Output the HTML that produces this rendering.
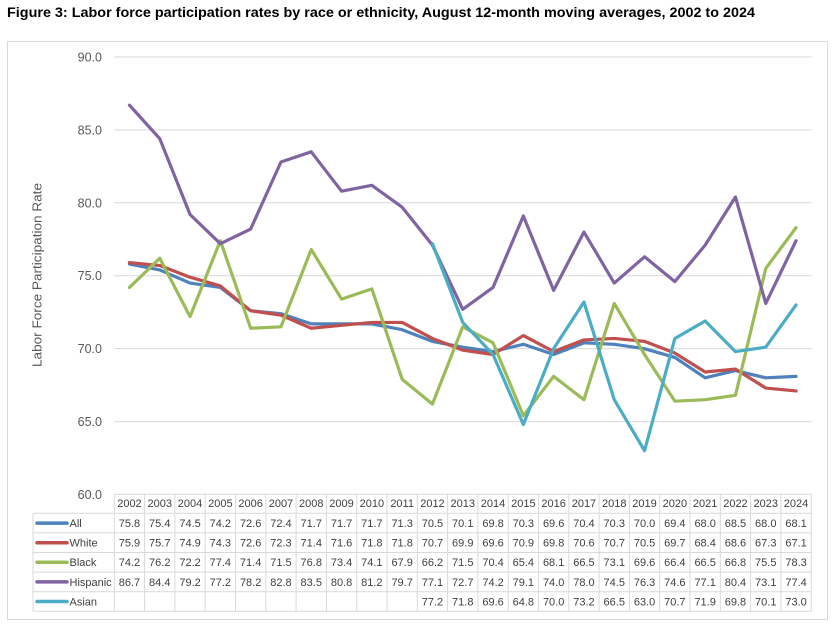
<!DOCTYPE html>
<html><head><meta charset="utf-8"><style>
html,body{margin:0;padding:0;background:#fff;}
svg{display:block;font-family:"Liberation Sans",sans-serif;}
</style></head><body>
<svg width="835" height="630" viewBox="0 0 835 630" xmlns="http://www.w3.org/2000/svg">
<rect x="0" y="0" width="835" height="630" fill="#fff"/>
<text x="7" y="17" font-size="13.5" font-weight="bold" fill="#000" textLength="748" lengthAdjust="spacingAndGlyphs">Figure 3: Labor force participation rates by race or ethnicity, August 12-month moving averages, 2002 to 2024</text>
<rect x="7.5" y="41.5" width="820" height="578" fill="#fff" stroke="#d9d9d9" stroke-width="1"/>
<!-- gridlines -->
<g stroke="#d9d9d9" stroke-width="1">
<line x1="114.3" y1="57" x2="811.7" y2="57"/>
<line x1="114.3" y1="129.9" x2="811.7" y2="129.9"/>
<line x1="114.3" y1="202.8" x2="811.7" y2="202.8"/>
<line x1="114.3" y1="275.7" x2="811.7" y2="275.7"/>
<line x1="114.3" y1="348.6" x2="811.7" y2="348.6"/>
<line x1="114.3" y1="421.6" x2="811.7" y2="421.6"/>
</g>
<g font-size="12.5" fill="#595959" text-anchor="end">
<text x="102" y="61.5">90.0</text>
<text x="102" y="134.4">85.0</text>
<text x="102" y="207.3">80.0</text>
<text x="102" y="280.2">75.0</text>
<text x="102" y="353.1">70.0</text>
<text x="102" y="426.1">65.0</text>
<text x="102" y="499">60.0</text>
</g>
<text transform="translate(41.5,275) rotate(-90)" font-size="12.5" fill="#595959" text-anchor="middle" textLength="184" lengthAdjust="spacingAndGlyphs">Labor Force Participation Rate</text>
<!-- series -->
<g transform="translate(129.45,494.5) scale(30.3,-14.583) translate(0,-60)" fill="none" stroke-width="3.2" stroke-linejoin="round" stroke-linecap="round">
<polyline vector-effect="non-scaling-stroke" stroke="#4F81BD" points="0,75.8 1,75.4 2,74.5 3,74.2 4,72.6 5,72.4 6,71.7 7,71.7 8,71.7 9,71.3 10,70.5 11,70.1 12,69.8 13,70.3 14,69.6 15,70.4 16,70.3 17,70.0 18,69.4 19,68.0 20,68.5 21,68.0 22,68.1"/>
<polyline vector-effect="non-scaling-stroke" stroke="#C0504D" points="0,75.9 1,75.7 2,74.9 3,74.3 4,72.6 5,72.3 6,71.4 7,71.6 8,71.8 9,71.8 10,70.7 11,69.9 12,69.6 13,70.9 14,69.8 15,70.6 16,70.7 17,70.5 18,69.7 19,68.4 20,68.6 21,67.3 22,67.1"/>
<polyline vector-effect="non-scaling-stroke" stroke="#9BBB59" points="0,74.2 1,76.2 2,72.2 3,77.4 4,71.4 5,71.5 6,76.8 7,73.4 8,74.1 9,67.9 10,66.2 11,71.5 12,70.4 13,65.4 14,68.1 15,66.5 16,73.1 17,69.6 18,66.4 19,66.5 20,66.8 21,75.5 22,78.3"/>
<polyline vector-effect="non-scaling-stroke" stroke="#8064A2" points="0,86.7 1,84.4 2,79.2 3,77.2 4,78.2 5,82.8 6,83.5 7,80.8 8,81.2 9,79.7 10,77.1 11,72.7 12,74.2 13,79.1 14,74.0 15,78.0 16,74.5 17,76.3 18,74.6 19,77.1 20,80.4 21,73.1 22,77.4"/>
<polyline vector-effect="non-scaling-stroke" stroke="#4BACC6" points="10,77.2 11,71.8 12,69.6 13,64.8 14,70.0 15,73.2 16,66.5 17,63.0 18,70.7 19,71.9 20,69.8 21,70.1 22,73.0"/>
</g>
<!-- table grid -->
<g stroke="#d9d9d9" stroke-width="1" fill="none">
<line x1="114.3" y1="494.3" x2="811.7" y2="494.3"/>
<line x1="33" y1="513.3" x2="811.7" y2="513.3"/>
<line x1="33" y1="532.9" x2="811.7" y2="532.9"/>
<line x1="33" y1="552.5" x2="811.7" y2="552.5"/>
<line x1="33" y1="572.1" x2="811.7" y2="572.1"/>
<line x1="33" y1="591.7" x2="811.7" y2="591.7"/>
<line x1="33" y1="611.3" x2="811.7" y2="611.3"/>
<line x1="33" y1="513.3" x2="33" y2="611.3"/>
<line x1="114.3" y1="494.3" x2="114.3" y2="611.3"/>
<line x1="144.6" y1="494.3" x2="144.6" y2="611.3"/>
<line x1="174.9" y1="494.3" x2="174.9" y2="611.3"/>
<line x1="205.2" y1="494.3" x2="205.2" y2="611.3"/>
<line x1="235.5" y1="494.3" x2="235.5" y2="611.3"/>
<line x1="265.8" y1="494.3" x2="265.8" y2="611.3"/>
<line x1="296.1" y1="494.3" x2="296.1" y2="611.3"/>
<line x1="326.4" y1="494.3" x2="326.4" y2="611.3"/>
<line x1="356.7" y1="494.3" x2="356.7" y2="611.3"/>
<line x1="387.0" y1="494.3" x2="387.0" y2="611.3"/>
<line x1="417.3" y1="494.3" x2="417.3" y2="611.3"/>
<line x1="447.6" y1="494.3" x2="447.6" y2="611.3"/>
<line x1="477.9" y1="494.3" x2="477.9" y2="611.3"/>
<line x1="508.2" y1="494.3" x2="508.2" y2="611.3"/>
<line x1="538.5" y1="494.3" x2="538.5" y2="611.3"/>
<line x1="568.8" y1="494.3" x2="568.8" y2="611.3"/>
<line x1="599.1" y1="494.3" x2="599.1" y2="611.3"/>
<line x1="629.4" y1="494.3" x2="629.4" y2="611.3"/>
<line x1="659.7" y1="494.3" x2="659.7" y2="611.3"/>
<line x1="690.0" y1="494.3" x2="690.0" y2="611.3"/>
<line x1="720.3" y1="494.3" x2="720.3" y2="611.3"/>
<line x1="750.6" y1="494.3" x2="750.6" y2="611.3"/>
<line x1="780.9" y1="494.3" x2="780.9" y2="611.3"/>
<line x1="811.2" y1="494.3" x2="811.2" y2="611.3"/>
</g>
<!-- legend keys -->
<g stroke-width="3.5" stroke-linecap="round">
<line x1="37" y1="523.1" x2="67" y2="523.1" stroke="#4F81BD"/>
<line x1="37" y1="542.7" x2="67" y2="542.7" stroke="#C0504D"/>
<line x1="37" y1="562.3" x2="67" y2="562.3" stroke="#9BBB59"/>
<line x1="37" y1="581.9" x2="67" y2="581.9" stroke="#8064A2"/>
<line x1="37" y1="601.5" x2="67" y2="601.5" stroke="#4BACC6"/>
</g>
<g font-size="11" fill="#404040">
<text x="69.5" y="527">All</text>
<text x="69.5" y="546.6">White</text>
<text x="69.5" y="566.2">Black</text>
<text x="69.5" y="585.8">Hispanic</text>
<text x="69.5" y="605.4">Asian</text>
</g>
<g font-size="11" fill="#404040" text-anchor="middle">
<text y="507"><tspan x="129.45">2002</tspan><tspan x="159.75">2003</tspan><tspan x="190.05">2004</tspan><tspan x="220.35">2005</tspan><tspan x="250.65">2006</tspan><tspan x="280.95">2007</tspan><tspan x="311.25">2008</tspan><tspan x="341.55">2009</tspan><tspan x="371.85">2010</tspan><tspan x="402.15">2011</tspan><tspan x="432.45">2012</tspan><tspan x="462.75">2013</tspan><tspan x="493.05">2014</tspan><tspan x="523.35">2015</tspan><tspan x="553.65">2016</tspan><tspan x="583.95">2017</tspan><tspan x="614.25">2018</tspan><tspan x="644.55">2019</tspan><tspan x="674.85">2020</tspan><tspan x="705.15">2021</tspan><tspan x="735.45">2022</tspan><tspan x="765.75">2023</tspan><tspan x="796.05">2024</tspan></text>
<text y="527"><tspan x="129.45">75.8</tspan><tspan x="159.75">75.4</tspan><tspan x="190.05">74.5</tspan><tspan x="220.35">74.2</tspan><tspan x="250.65">72.6</tspan><tspan x="280.95">72.4</tspan><tspan x="311.25">71.7</tspan><tspan x="341.55">71.7</tspan><tspan x="371.85">71.7</tspan><tspan x="402.15">71.3</tspan><tspan x="432.45">70.5</tspan><tspan x="462.75">70.1</tspan><tspan x="493.05">69.8</tspan><tspan x="523.35">70.3</tspan><tspan x="553.65">69.6</tspan><tspan x="583.95">70.4</tspan><tspan x="614.25">70.3</tspan><tspan x="644.55">70.0</tspan><tspan x="674.85">69.4</tspan><tspan x="705.15">68.0</tspan><tspan x="735.45">68.5</tspan><tspan x="765.75">68.0</tspan><tspan x="796.05">68.1</tspan></text>
<text y="546.6"><tspan x="129.45">75.9</tspan><tspan x="159.75">75.7</tspan><tspan x="190.05">74.9</tspan><tspan x="220.35">74.3</tspan><tspan x="250.65">72.6</tspan><tspan x="280.95">72.3</tspan><tspan x="311.25">71.4</tspan><tspan x="341.55">71.6</tspan><tspan x="371.85">71.8</tspan><tspan x="402.15">71.8</tspan><tspan x="432.45">70.7</tspan><tspan x="462.75">69.9</tspan><tspan x="493.05">69.6</tspan><tspan x="523.35">70.9</tspan><tspan x="553.65">69.8</tspan><tspan x="583.95">70.6</tspan><tspan x="614.25">70.7</tspan><tspan x="644.55">70.5</tspan><tspan x="674.85">69.7</tspan><tspan x="705.15">68.4</tspan><tspan x="735.45">68.6</tspan><tspan x="765.75">67.3</tspan><tspan x="796.05">67.1</tspan></text>
<text y="566.2"><tspan x="129.45">74.2</tspan><tspan x="159.75">76.2</tspan><tspan x="190.05">72.2</tspan><tspan x="220.35">77.4</tspan><tspan x="250.65">71.4</tspan><tspan x="280.95">71.5</tspan><tspan x="311.25">76.8</tspan><tspan x="341.55">73.4</tspan><tspan x="371.85">74.1</tspan><tspan x="402.15">67.9</tspan><tspan x="432.45">66.2</tspan><tspan x="462.75">71.5</tspan><tspan x="493.05">70.4</tspan><tspan x="523.35">65.4</tspan><tspan x="553.65">68.1</tspan><tspan x="583.95">66.5</tspan><tspan x="614.25">73.1</tspan><tspan x="644.55">69.6</tspan><tspan x="674.85">66.4</tspan><tspan x="705.15">66.5</tspan><tspan x="735.45">66.8</tspan><tspan x="765.75">75.5</tspan><tspan x="796.05">78.3</tspan></text>
<text y="585.8"><tspan x="129.45">86.7</tspan><tspan x="159.75">84.4</tspan><tspan x="190.05">79.2</tspan><tspan x="220.35">77.2</tspan><tspan x="250.65">78.2</tspan><tspan x="280.95">82.8</tspan><tspan x="311.25">83.5</tspan><tspan x="341.55">80.8</tspan><tspan x="371.85">81.2</tspan><tspan x="402.15">79.7</tspan><tspan x="432.45">77.1</tspan><tspan x="462.75">72.7</tspan><tspan x="493.05">74.2</tspan><tspan x="523.35">79.1</tspan><tspan x="553.65">74.0</tspan><tspan x="583.95">78.0</tspan><tspan x="614.25">74.5</tspan><tspan x="644.55">76.3</tspan><tspan x="674.85">74.6</tspan><tspan x="705.15">77.1</tspan><tspan x="735.45">80.4</tspan><tspan x="765.75">73.1</tspan><tspan x="796.05">77.4</tspan></text>
<text y="605.4"><tspan x="432.45">77.2</tspan><tspan x="462.75">71.8</tspan><tspan x="493.05">69.6</tspan><tspan x="523.35">64.8</tspan><tspan x="553.65">70.0</tspan><tspan x="583.95">73.2</tspan><tspan x="614.25">66.5</tspan><tspan x="644.55">63.0</tspan><tspan x="674.85">70.7</tspan><tspan x="705.15">71.9</tspan><tspan x="735.45">69.8</tspan><tspan x="765.75">70.1</tspan><tspan x="796.05">73.0</tspan></text>
</g>
</svg>
</body></html>
